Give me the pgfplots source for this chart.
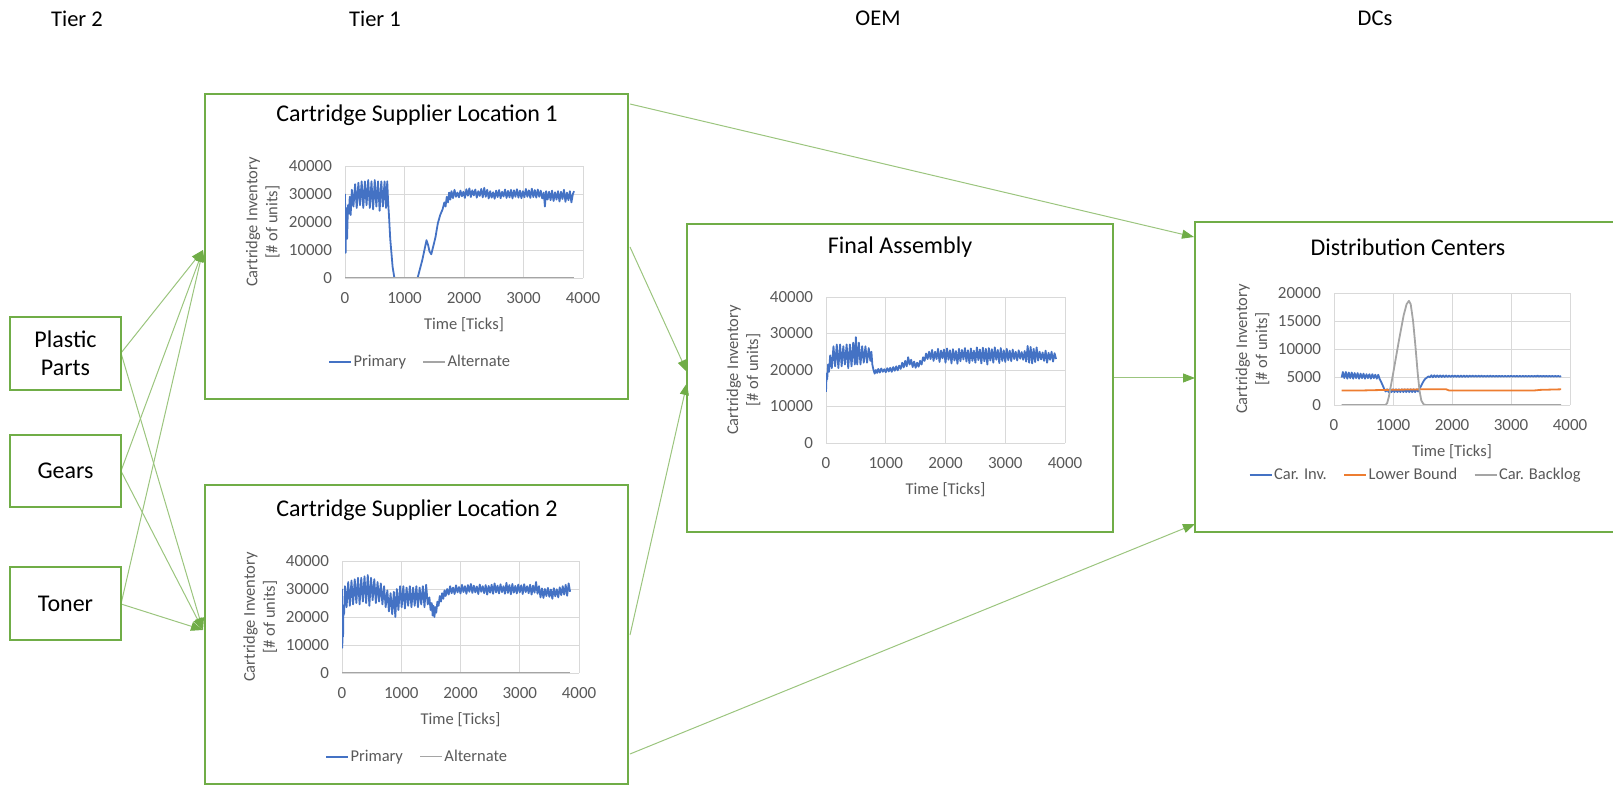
\documentclass[border=0pt]{standalone}
\usepackage{fontspec}
\setmainfont{Carlito}
\usepackage{pgfplots}
\pgfplotsset{compat=1.18}
\usetikzlibrary{arrows.meta}
\definecolor{xlblue}{HTML}{4472C4}
\definecolor{xlorange}{HTML}{ED7D31}
\definecolor{xlgray}{HTML}{A5A5A5}
\definecolor{boxgreen}{HTML}{70AD47}
\definecolor{linegreen}{HTML}{9BC57E}
\definecolor{tickgray}{HTML}{595959}
\definecolor{gridgray}{HTML}{D9D9D9}
\pgfplotsset{
  xl/.style={
    scale only axis,
    anchor=south west,
    xmin=0, xmax=4000,
    xtick={0,1000,2000,3000,4000},
    axis line style={draw=none},
    major tick length=0pt,
    grid=major,
    major grid style={draw=gridgray, line width=0.9pt},
    scaled ticks=false,
    /pgf/number format/.cd, 1000 sep={}, assume math mode=true, /pgfplots/.cd,
    tick label style={font=\fontsize{17}{20}\selectfont, text=tickgray},
    xticklabel style={yshift=-11pt},
    yticklabel style={xshift=-9.5pt},
    every axis x label/.style={at={(axis description cs:0.5,0)}, anchor=center, yshift=-47pt, font=\fontsize{16.5}{20}\selectfont, text=tickgray},
    every axis y label/.style={at={(axis description cs:-0.345,0.5)}, rotate=90, anchor=center, align=center, font=\fontsize{16.5}{20}\selectfont, text=tickgray},
    xlabel={Time [Ticks]},
    ylabel={Cartridge Inventory\\{[}\# of units{]}},
    legend style={draw=none, fill=none, anchor=center, legend columns=-1, font=\fontsize{16.5}{20}\selectfont, text=tickgray, nodes={inner xsep=1.5pt}, /tikz/every even column/.append style={column sep=15pt}},
    legend image code/.code={\draw[#1] (0pt,0pt) -- (22pt,0pt);},
    every axis plot/.append style={line join=round},
  }
}
\begin{document}
\begin{tikzpicture}
\path[use as bounding box] (0pt,0pt) rectangle (1613pt,786pt);
\begin{scope}[x=1pt,y=1pt]
% arrows
\tikzset{arr/.style={draw=linegreen, line width=1pt, -{Triangle[length=12pt,width=9pt,color=boxgreen]}}}
\draw[arr] (121,433) -- (203,536);
\draw[arr] (121,433) -- (203,156);
\draw[arr] (121,315) -- (203,536);
\draw[arr] (121,315) -- (203,156);
\draw[arr] (121,182) -- (203,536);
\draw[arr] (121,182) -- (203,156);
\draw[arr] (630,682) -- (1194,549);
\draw[arr] (630,539) -- (687,414);
\draw[arr] (630,151) -- (687,403);
\draw[arr] (1113,408) -- (1195,408);
\draw[arr] (630,32) -- (1195,262);
% boxes
\tikzset{bx/.style={draw=boxgreen, line width=2pt}}
\draw[bx] (205,692.4) rectangle (627.5,387);
\draw[bx] (205,300.5) rectangle (627.5,1.5);
\draw[bx] (687,562) rectangle (1113,254);
\draw[bx] (1625,564) -- (1195,564) -- (1195,254) -- (1625,254);
\draw[bx] (10,469) rectangle (121,396);
\draw[bx] (10,351) rectangle (121,279);
\draw[bx] (10,219) rectangle (121,146);
% box labels
\node[font=\fontsize{24}{28}\selectfont, align=center] at (65.5,432.5) {Plastic\\Parts};
\node[font=\fontsize{24}{28}\selectfont] at (65.5,315) {Gears};
\node[font=\fontsize{24}{28}\selectfont] at (65.5,182.5) {Toner};
% tier labels
\node[font=\fontsize{22.5}{27}\selectfont] at (77,767.5) {Tier 2};
\node[font=\fontsize{22.5}{27}\selectfont] at (375,767.5) {Tier 1};
\node[font=\fontsize{22.5}{27}\selectfont] at (878,767.5) {OEM};
\node[font=\fontsize{22.5}{27}\selectfont] at (1375,767.5) {DCs};
% titles
\node[font=\fontsize{24}{28}\selectfont] at (417,671) {Cartridge Supplier Location 1};
\node[font=\fontsize{24}{28}\selectfont] at (417,276) {Cartridge Supplier Location 2};
\node[font=\fontsize{24}{28}\selectfont] at (900,539) {Final Assembly};
\node[font=\fontsize{24}{28}\selectfont] at (1408,539) {Distribution Centers};
\end{scope}

% ---------- Chart 1 ----------
\begin{axis}[xl, at={(345pt,508pt)}, width=238pt, height=112pt,
  ymin=0, ymax=40000, ytick={0,10000,20000,30000,40000},
  legend style={at={(0.315,-0.75)}}]
\addplot[xlblue, line width=1.8pt] coordinates {
(0,30000) (10,9000) (20,25000) (35,14000) (50,26000) (65,23000) (80,29000) (95,22500)
(115,31500) (142,25500) (170,33500) (197,25000) (225,34000) (252,26000) (280,34500)
(307,25000) (335,34500) (362,26000) (390,35000) (417,25000) (445,34500) (472,24500)
(500,35000) (527,25500) (555,34500) (582,24000) (610,34500) (637,25500) (665,34500)
(690,25000) (710,34500) (725,27000) (740,22000) (760,14000) (780,9000)
(800,4000) (830,0) (1220,0) (1300,6500) (1370,13500) (1400,11500) (1420,9500) (1450,8500)
(1480,11000) (1520,14500) (1560,19500) (1600,22500) (1640,24500) (1670,27000) (1690,25500)
(1710,29000) (1730,27000) (1750,30500) (1770,28000)
(1790,31000) (1815,28500) (1840,31500) (1865,29000) (1890,30500) (1915,28800) (1940,31200)
(1965,29200) (1990,30800) (2015,28600) (2040,31700) (2065,29400) (2090,32000) (2115,28900)
(2140,31300) (2165,29500) (2190,31600) (2215,28700) (2240,31000) (2265,29300) (2290,31800)
(2315,28800) (2340,32200) (2365,29000) (2390,31500) (2415,28400) (2440,31000) (2465,28700)
(2490,30600) (2515,28300) (2540,31200) (2565,28900) (2590,31400) (2615,28500) (2640,30800)
(2665,29100) (2690,31600) (2715,28600) (2740,31100) (2765,28800) (2790,31500) (2815,28400)
(2840,31300) (2865,29000) (2890,31700) (2915,28700) (2940,31200) (2965,28500) (2990,31000)
(3015,28800) (3040,31800) (3065,29000) (3090,31300) (3115,28600) (3140,31900) (3165,28900)
(3190,31400) (3215,28700) (3240,31600) (3265,29000) (3290,31200) (3315,28400) (3340,30500)
(3360,25500) (3380,31000) (3405,28000) (3430,30800) (3455,27800) (3480,31200) (3505,27500)
(3530,30600) (3555,28000) (3580,31000) (3605,27300) (3630,30800) (3655,28200) (3680,31500)
(3705,27200) (3730,30500) (3755,27800) (3780,31000) (3805,27000) (3830,30000) (3850,31000)
};
\addlegendentry{Primary}
\addplot[xlgray, line width=1.5pt] coordinates {(0,0) (3850,0)};
\addlegendentry{Alternate}
\end{axis}

% ---------- Chart 2 ----------
\begin{axis}[xl, at={(342pt,113pt)}, width=237pt, height=112pt,
  ymin=0, ymax=40000, ytick={0,10000,20000,30000,40000},
  legend style={at={(0.316,-0.747)}}]
\addplot[xlblue, line width=1.8pt] coordinates {
(0,30000) (4,9000) (10,14000) (18,13000) (25,24000) (35,21000)
(50,31000) (77,23500) (105,32500) (132,24000) (160,33000) (187,24500) (215,33500)
(242,25000) (270,34000) (297,24500) (325,34000) (352,25500) (380,34500) (407,25000)
(435,35000) (462,24000) (490,34000) (517,26000) (545,33500) (572,25000) (600,32500)
(627,25500) (655,32000) (682,24500) (710,31000) (737,23500) (765,29500) (792,22000)
(820,28500) (847,21000) (875,29000) (900,20000) (925,30000) (952,22500) (980,31000)
(1007,23500) (1035,31000) (1062,23000) (1090,30500) (1117,24000) (1145,31000) (1172,23500)
(1200,30500) (1227,24000) (1255,31000) (1282,23500) (1310,30500) (1337,24500) (1365,31000)
(1392,23500) (1420,31500) (1447,24500)
(1475,27000) (1495,22500) (1515,25000) (1530,20500) (1545,24000) (1560,20000) (1575,23500)
(1590,21500) (1610,25500) (1630,24000) (1650,27500) (1670,25500) (1690,28500) (1710,26500)
(1730,29500) (1750,27500)
(1775,30000) (1800,28000) (1825,31000) (1850,28500) (1875,30500) (1900,28200) (1925,31300)
(1950,28800) (1975,30700) (2000,28400) (2025,31500) (2050,28900) (2075,31000) (2100,28300)
(2125,31400) (2150,29000) (2175,31800) (2200,28600) (2225,31200) (2250,28800) (2275,30900)
(2300,28200) (2325,31600) (2350,29000) (2375,31000) (2400,28500) (2425,31400) (2450,28000)
(2475,31100) (2500,28700) (2525,31500) (2550,28300) (2575,32000) (2600,28800) (2625,31200)
(2650,28400) (2675,31700) (2700,28900) (2725,31000) (2750,28300) (2775,32200) (2800,28600)
(2825,31400) (2850,28100) (2875,31800) (2900,28700) (2925,31100) (2950,28400) (2975,31600)
(3000,28800) (3025,31300) (3050,28200) (3075,31700) (3100,28900) (3125,31000) (3150,28500)
(3175,31500) (3200,28000) (3225,31200) (3250,28700) (3275,32500) (3300,28300) (3325,31000)
(3350,27000) (3375,30200) (3400,26800) (3425,30000) (3450,27500) (3475,30400) (3500,27200)
(3525,29800) (3550,26500) (3575,30300) (3600,27400) (3625,29900) (3650,27000) (3675,30600)
(3700,27800) (3725,31000) (3750,28000) (3775,31500) (3800,27600) (3825,32000) (3850,29000)
};
\addlegendentry{Primary}
\addplot[xlgray, line width=1.5pt] coordinates {(0,0) (3850,0)};
\addlegendentry{Alternate}
\end{axis}

% ---------- Chart 3 ----------
\begin{axis}[xl, at={(826pt,343pt)}, width=239pt, height=146pt,
  ymin=0, ymax=40000, ytick={0,10000,20000,30000,40000}]
\addplot[xlblue, line width=1.8pt] coordinates {
(0,14000) (10,19000) (20,17500) (35,21500) (50,19500) (70,24000) (97,20500) (125,26500)
(152,21000) (180,27000) (207,20500) (235,27000) (262,21000) (290,26500) (317,21500)
(345,27000) (372,20500) (400,27000) (427,21000) (455,27500) (482,21500) (500,29000)
(522,21500) (550,27500) (577,21500) (605,26500) (632,22000) (660,26500) (687,22000)
(715,26000) (742,22500) (760,25000) (775,21500)
(795,20000) (815,19000) (835,20000) (855,19200) (875,20300) (900,19300) (925,20400)
(950,19500) (975,20200) (1000,19400) (1025,20500) (1050,19600) (1075,20600) (1100,19500)
(1125,20800) (1150,19800) (1175,21000) (1200,19900) (1225,21200) (1250,20300) (1275,22000)
(1300,20700) (1325,22500) (1350,21000) (1375,23500) (1400,21500) (1425,22800) (1450,20800)
(1475,22300) (1500,20600) (1525,22000) (1550,20900) (1575,22500) (1600,21500) (1625,23500)
(1650,22500) (1675,24500) (1700,23000) (1725,25000)
(1750,23000) (1775,25500) (1800,22500) (1825,25000) (1850,23000) (1875,25800) (1900,22200)
(1925,25300) (1950,23200) (1975,25600) (2000,22000) (2025,25900) (2050,22800) (2075,25400)
(2100,21800) (2125,25700) (2150,22600) (2175,25200) (2200,21700) (2225,25800) (2250,22400)
(2275,25500) (2300,22900) (2325,26000) (2350,22300) (2375,25400) (2400,21900) (2425,25900)
(2450,22500) (2475,25300) (2500,22000) (2525,26200) (2550,22700) (2575,25600) (2600,21800)
(2625,26100) (2650,22400) (2675,25800) (2700,21500) (2725,26000) (2750,22600) (2775,25700)
(2800,22000) (2825,26200) (2850,22800) (2875,25500) (2900,21900) (2925,26000) (2950,22500)
(2975,25400) (3000,22200) (3025,25800) (3050,22700) (3075,25300) (3100,22400) (3125,25600)
(3150,23000) (3175,25000) (3200,22600) (3225,25400) (3250,23100) (3275,24900) (3300,22800)
(3325,25200) (3350,22300) (3375,26600) (3400,22000) (3425,26300) (3450,21800) (3475,25800)
(3500,22200) (3525,26200) (3550,22600) (3575,25000) (3600,22900) (3625,24800) (3650,22500)
(3675,25300) (3700,22000) (3725,24700) (3750,22800) (3775,25000) (3800,22300) (3825,24600)
(3850,23000)
};
\end{axis}

% ---------- Chart 4 ----------
\begin{axis}[xl, at={(1334pt,381pt)}, width=236pt, height=112pt,
  ymin=0, ymax=20000, ytick={0,5000,10000,15000,20000},
  legend style={at={(0.345,-0.625)}}]
\addplot[xlblue, line width=1.8pt] coordinates {
(130,4900) (150,5900) (175,4800) (200,5900) (225,4700) (250,5800) (275,4800) (300,5800)
(325,4700) (350,5700) (375,4800) (400,5700) (425,4700) (450,5600) (475,4800) (500,5600)
(525,4700) (550,5500) (575,4800) (600,5500) (625,4700) (650,5500) (675,4800) (700,5400)
(725,4700) (750,5400) (775,4600) (800,4100) (825,3500) (850,2900) (875,2400) (900,2800)
(925,2300) (950,2800) (975,2300) (1000,2800) (1025,2300) (1050,2800) (1075,2300) (1100,2800)
(1125,2300) (1150,2800) (1175,2300) (1200,2800) (1225,2300) (1250,2800) (1275,2300)
(1300,2800) (1325,2300) (1350,2800) (1375,2300) (1400,2800) (1425,2400) (1450,2900)
(1475,3400) (1500,3900) (1525,4400) (1550,4700) (1575,4900) (1600,5100) (1625,4950)
(1650,5300) (1675,4950) (1700,5300) (1725,5000) (1750,5280) (1775,5000) (1800,5280)
(1825,5000) (1850,5270) (1875,5000) (1900,5270) (1925,5010) (1950,5260) (1975,5010)
(2000,5260) (2025,5020) (2050,5260) (2075,5020) (2100,5250) (2125,5020) (2150,5250)
(2175,5030) (2200,5250) (2225,5030) (2250,5240) (2275,5030) (2300,5240) (2325,5040)
(2350,5240) (2375,5040) (2400,5230) (2425,5040) (2450,5230) (2475,5050) (2500,5230)
(2525,5050) (2550,5220) (2575,5050) (2600,5220) (2625,5060) (2650,5220) (2675,5060)
(2700,5210) (2725,5060) (2750,5210) (2775,5060) (2800,5210) (2825,5070) (2850,5200)
(2875,5070) (2900,5200) (2925,5070) (2950,5200) (2975,5080) (3000,5200) (3025,5080)
(3050,5190) (3075,5080) (3100,5190) (3125,5080) (3150,5190) (3175,5080) (3200,5190)
(3225,5080) (3250,5190) (3275,5080) (3300,5190) (3325,5080) (3350,5200) (3375,5080)
(3400,5200) (3425,5080) (3450,5250) (3475,5080) (3500,5200) (3525,5080) (3550,5200)
(3575,5080) (3600,5200) (3625,5080) (3650,5200) (3675,5080) (3700,5200) (3725,5080)
(3750,5180) (3775,5080) (3800,5180) (3825,5080) (3850,5150)
};
\addlegendentry{Car. Inv.}
\addplot[xlorange, line width=1.8pt] coordinates {
(130,2600) (500,2600) (900,2700) (1500,2800) (1900,2800) (1950,2600) (3400,2600) (3500,2700) (3850,2800)
};
\addlegendentry{Lower Bound}
\addplot[xlgray, line width=1.8pt] coordinates {
(130,0) (870,0) (900,300) (930,1500) (1000,5500) (1100,11500) (1180,16000) (1230,18000)
(1270,18600) (1300,18000) (1340,15000) (1380,10500) (1420,5500) (1450,2500) (1480,800)
(1520,100) (1560,0) (3850,0)
};
\addlegendentry{Car. Backlog}
\end{axis}
\end{tikzpicture}
\end{document}
